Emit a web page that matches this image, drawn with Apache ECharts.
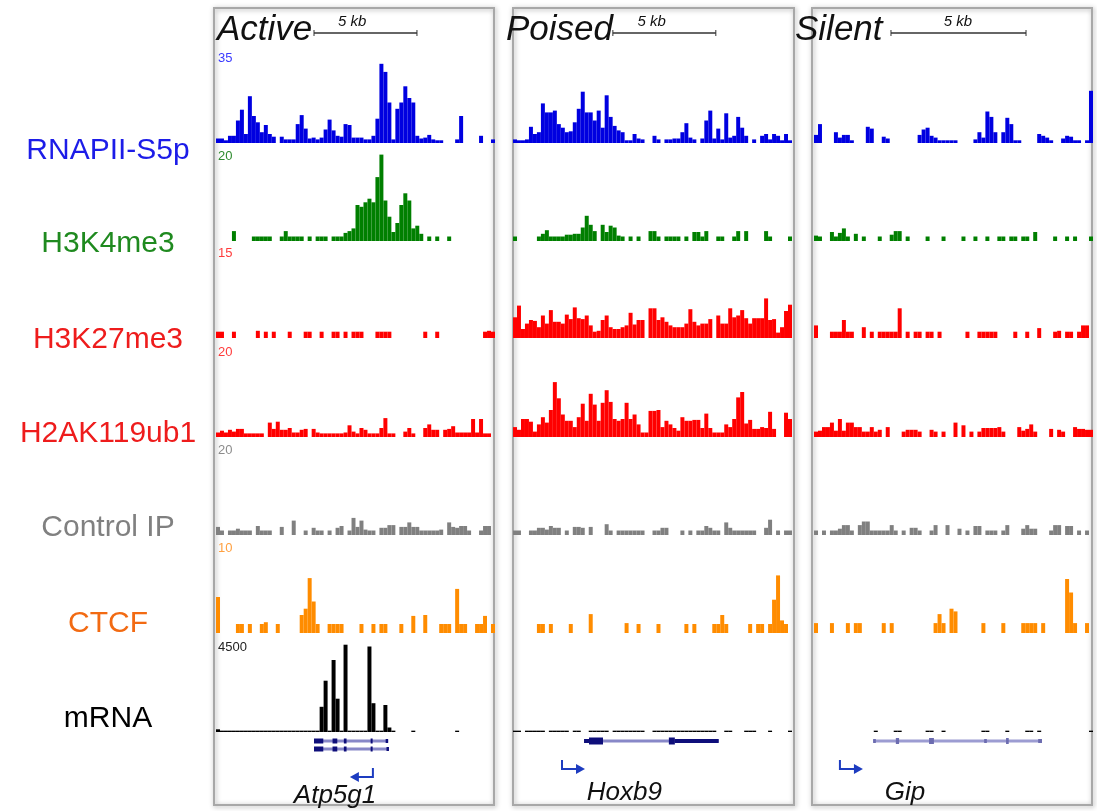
<!DOCTYPE html>
<html>
<head>
<meta charset="utf-8">
<script src="https://cdn.jsdelivr.net/npm/echarts/dist/echarts.min.js"></script>
<style>
html, body { margin: 0; padding: 0; background: #fff; }
#main { width: 1097px; height: 811px; }
</style>
</head>
<body>
<div id="main"></div>
<script>
var _ = null;

// signal per 70 bins, in % of the track's scale maximum
var rnapActive = [5,5,3,8,8,25,37,10,52,30, 23,12,20,10,7,_,7,4,4,4, 21,31,16,5,6,4,6,15,26,14, 8,7,21,20,6,6,6,4,4,8,
  27,88,79,45,4,38,45,63,50,45, 8,5,6,9,4,3,3,_,_,_, 4,30,_,_,_,_,8,_,_,4];
var rnapPoised = [4,3,3,4,18,10,12,44,34,34, 36,21,17,12,13,23,38,57,34,34, 25,36,17,53,29,19,14,12,3,3, 10,5,4,_,_,8,4,_,4,4,
  5,5,12,22,6,4,_,5,25,36, 5,16,4,33,6,8,29,17,8,_, 4,_,8,10,4,10,8,3,10,3];
var rnapSilent = [9,21,_,_,_,12,6,9,9,3, _,_,_,18,16,_,_,7,5,_, _,_,_,_,_,_,9,15,17,8, 6,3,3,3,3,3,_,_,_,_,
  4,12,6,35,29,12,_,12,28,21, 3,3,_,_,_,_,10,8,6,3, _,_,5,8,7,3,3,_,3,58];

var k4Active = [_,_,_,_,11,_,_,_,_,5, 5,5,5,5,_,_,5,11,5,5, 5,5,_,5,_,5,5,5,_,5, 5,5,9,11,14,40,38,43,47,43,
  71,96,45,27,10,20,40,53,45,14, 17,8,_,5,_,5,_,_,5,_, _,_,_,_,_,_,_,_,_,_];
var k4Poised = [5,_,_,_,_,_,5,8,12,5, 5,5,5,7,7,8,8,15,28,18, 11,_,18,10,17,15,6,5,_,5, _,5,_,_,11,11,5,_,5,5,
  5,5,_,5,_,10,10,5,11,_, _,5,5,_,_,5,11,_,11,_, _,_,_,11,5,_,_,_,_,5];
var k4Silent = [6,5,_,_,10,5,9,14,5,_, 8,_,5,_,_,_,5,_,_,7, 11,11,_,5,_,_,_,_,5,_, _,_,5,_,_,_,_,5,_,_,
  5,_,_,5,_,_,5,5,_,5, 5,_,5,5,_,10,_,_,_,_, 5,_,_,5,_,5,_,_,_,5];

var k27Active = [7,7,_,_,7,_,_,_,_,_, 8,_,7,_,7,_,_,_,7,_, _,_,7,7,_,_,7,_,_,7, 7,_,7,_,7,7,7,_,_,_,
  7,7,7,7,_,_,_,_,_,_, _,_,7,_,_,7,_,_,_,_, _,_,_,_,_,_,_,7,8,7];
var k27Poised = [23,36,10,16,20,19,12,25,16,31, 18,18,16,26,21,34,22,21,25,14, 7,8,20,25,12,10,10,12,14,28, 15,20,20,_,33,33,20,23,18,14,
  12,12,12,16,32,18,14,16,16,21, _,25,16,16,33,23,25,31,22,16, 22,22,22,44,20,21,6,12,30,37];
var k27Silent = [14,_,_,_,7,7,7,20,7,7, _,_,12,_,7,_,7,7,7,7, 7,33,_,7,_,7,7,_,7,7, _,7,_,_,_,_,_,_,7,_,
  _,7,7,7,7,7,_,_,_,_, 7,_,_,7,_,_,11,_,_,_, 7,8,_,7,7,_,7,14,14,_];

var ubActive = [5,7,5,8,6,9,9,4,4,4, 4,4,_,16,9,17,8,8,10,5, 5,8,9,_,9,5,4,4,4,4, 4,4,5,13,6,4,10,8,4,4,
  4,10,21,4,4,_,_,6,10,4, _,_,10,14,8,8,_,8,9,12, 5,5,5,5,20,5,20,4,4,_];
var ubPoised = [11,8,20,20,17,6,14,22,16,30, 61,43,25,18,18,11,22,37,18,48, 36,18,38,52,39,20,18,20,38,20, 25,14,5,5,29,29,30,11,18,14,
  10,7,22,18,18,19,19,10,26,10, 5,5,5,14,11,20,44,50,15,19, 9,9,11,10,28,9,_,_,27,20];
var ubSilent = [6,7,11,11,16,7,20,7,16,16, 11,11,6,6,11,6,8,_,11,_, _,_,6,8,8,8,6,_,_,8, 6,_,6,_,_,16,_,13,_,6,
  _,6,10,10,10,10,11,6,_,_, _,11,7,9,14,6,_,_,_,9, _,8,6,_,_,11,9,9,8,8];

var ctrlActive = [9,5,_,5,5,7,5,5,5,_, 10,5,5,5,_,_,9,_,_,16, _,_,5,_,8,5,5,_,5,_, 8,10,_,5,19,9,16,6,5,5,
  _,8,8,11,11,_,9,9,14,9, 9,5,5,5,5,5,6,_,14,9, 8,10,10,5,_,_,5,10,10,_];
var ctrlPoised = [5,5,_,_,5,5,8,8,6,10, 8,8,_,5,_,9,9,8,_,9, _,_,_,12,5,_,5,5,5,5, 5,5,5,_,_,5,5,8,8,_,
  _,_,5,_,5,_,5,5,10,8, 5,5,_,14,8,5,5,5,5,5, 5,_,_,8,17,_,5,_,5,5];
var ctrlSilent = [5,_,5,_,5,5,7,11,11,5, _,11,15,15,5,5,5,5,5,11, 5,_,5,_,8,8,5,_,_,5, 11,_,_,11,_,_,7,_,5,_,
  10,10,_,5,5,5,_,5,11,_, _,_,7,11,7,7,_,_,_,5, 11,11,_,10,10,_,5,_,5,_];

var ctcfActive = [40,_,_,_,_,10,10,_,10,_, _,10,12,_,_,10,_,_,_,_, _,20,27,61,35,10,_,_,10,10, 10,10,_,_,_,_,10,_,_,10,
  _,10,10,_,_,_,10,_,_,19, _,_,20,_,_,_,10,10,10,_, 49,10,10,_,_,10,10,19,_,10];
var ctcfPoised = [_,_,_,_,_,_,10,10,_,10, _,_,_,_,10,_,_,_,_,21, _,_,_,_,_,_,_,_,11,_, _,10,_,_,_,_,10,_,_,_,
  _,_,_,10,_,10,_,_,_,_, 10,10,20,10,_,_,_,_,_,10, _,10,10,_,10,37,64,14,10,_];
var ctcfSilent = [11,_,_,_,11,_,_,_,11,_, 11,11,_,_,_,_,_,11,_,11, _,_,_,_,_,_,_,_,_,_, 11,21,11,_,27,24,_,_,_,_,
  _,_,11,_,_,_,_,11,_,_, _,_,11,11,11,11,_,11,_,_, _,_,_,60,45,11,_,_,11,_];

var mrnaActive = [3,1.5,1.5,1.5,1.5,1.5,1.5,1.5,1.5,1.5, 1.5,1.5,1.5,1.5,1.5,1.5,1.5,1.5,1.5,1.5,
  1.5,1.5,1.5,1.5,1.5,1.5,28,57,1.5,80, 37,1.5,97,1.5,1.5,1.5,1.5,1.5,95,32,
  1.5,1.5,30,5,1.5,_,_,_,_,1.5, _,_,_,_,_,_,_,_,_,_, 1.5,_,_,_,_,_,_,_,_,_];
var mrnaPoised = [1.5,1.5,_,1.5,1.5,1.5,1.5,1.5,_,1.5, 1.5,1.5,1.5,1.5,_,1.5,1.5,_,_,1.5,
  1.5,1.5,1.5,1.5,_,1.5,1.5,1.5,1.5,1.5, 1.5,1.5,1.5,_,_,1.5,1.5,1.5,1.5,1.5,
  1.5,1.5,1.5,1.5,1.5,1.5,1.5,1.5,1.5,1.5, 1.5,_,_,1.5,1.5,_,_,_,1.5,1.5, 1.5,_,_,_,1.5,_,_,_,_,1.5];
var mrnaSilent = [_,_,_,_,_,_,_,_,_,_, _,_,_,_,_,1.5,_,_,_,_, 1.5,1.5,_,_,_,_,_,_,1.5,1.5,
  _,_,1.5,_,_,_,_,_,_,_, _,_,1.5,1.5,_,_,_,_,1.5,_, _,_,_,1.5,1.5,_,1.5,_,_,_, _,_,_,_,_,_,_,_,_,1.5];

var trackNames = ['RNAPII-S5p', 'H3K4me3', 'H3K27me3', 'H2AK119ub1', 'Control IP', 'CTCF', 'mRNA'];
var trackScale = ['35', '20', '15', '20', '20', '10', '4500'];
var panelNames = ['Active', 'Poised', 'Silent'];
var panelSpanKb = [13.55, 13.55, 10.33];

// gene models: [startKb, endKb, transcript row, part (0 intron, 1 UTR, 2 CDS)]
var atp5g1 = [[4.76,8.36,0,0],[4.76,5.21,0,2],[5.66,5.89,0,2],[6.21,6.34,0,2],[7.51,7.59,0,2],[8.24,8.36,0,1],
  [4.76,8.40,1,0],[4.76,5.21,1,2],[5.66,5.89,1,2],[6.21,6.34,1,2],[7.51,7.59,1,2],[8.28,8.40,1,1]];
var hoxb9 = [[3.45,9.99,0,0],[3.45,3.69,0,1],[3.69,4.37,0,2],[7.57,7.86,0,2],[7.86,9.99,0,1]];
var gip = [[2.19,8.44,0,0],[2.19,2.29,0,1],[3.03,3.15,0,2],[4.26,4.44,0,2],[6.30,6.40,0,1],[7.11,7.21,0,2],[8.30,8.44,0,1]];
var geneNames = ['Atp5g1', 'Hoxb9', 'Gip'];
// [tssKb, direction, transcripts, labelKb]
var geneMarks = [[7.62,-1,2,5.78],[2.38,1,1,5.41],[0.96,1,1,3.37]];
// [startKb, lengthKb, labelKb]
var scaleBars = [[4.76,5,6.61],[4.85,5,6.74],[2.85,5,5.33]];

var signal = [
  [rnapActive, k4Active, k27Active, ubActive, ctrlActive, ctcfActive, mrnaActive],
  [rnapPoised, k4Poised, k27Poised, ubPoised, ctrlPoised, ctcfPoised, mrnaPoised],
  [rnapSilent, k4Silent, k27Silent, ubSilent, ctrlSilent, ctcfSilent, mrnaSilent]
];
var genes = [atp5g1, hoxb9, gip];

var barColors = ['#0000e0', '#007f00', '#ff0000', '#ff0000', '#808080', '#ff8c00', '#000000'];
var labelColors = ['#1c1ce8', '#1f8a1f', '#ee1c1c', '#ee1c1c', '#808080', '#f26a12', '#000000'];
var scaleColors = ['#3a3aff', '#2e8b2e', '#ff3b3b', '#ff3b3b', '#8c8c8c', '#ffa040', '#222222'];
var geneColors = [['#0e0e7a', '#8888c8'], ['#0e0e7a', '#8888c8'], ['#6c6cb0', '#9c9cd2']];
var cdsHeight = [5, 7, 6];

var panelLeft = [216, 513, 814];
var panelW = 279;
var baseY = [143, 241, 338, 437, 535, 633, 732];
var trackH = 90;
var labelY = [151, 244, 340, 434, 528, 624, 719];
var FONT = '"Liberation Sans", Arial, sans-serif';

var bins = [];
for (var i = 0; i < 70; i++) bins.push(i);

var grids = [], xAxes = [], yAxes = [], series = [];

function addGrid(g, x, y) {
  var k = grids.length;
  grids.push(g);
  x.gridIndex = k; x.show = false;
  y.gridIndex = k; y.show = false;
  xAxes.push(x);
  yAxes.push(y);
  return k;
}

panelLeft.forEach(function (left, p) {
  baseY.forEach(function (b, t) {
    var k = addGrid({left: left, top: b - trackH, width: panelW, height: trackH},
      {type: 'category', data: bins},
      {type: 'value', min: 0, max: 100});
    series.push({
      type: 'bar', xAxisIndex: k, yAxisIndex: k, data: signal[p][t],
      barWidth: '100%', silent: true, itemStyle: {color: barColors[t]}
    });
  });
});

function geneRender(p) {
  return function (params, api) {
    var x0 = api.coord([api.value(0), 0])[0];
    var x1 = api.coord([api.value(1), 0])[0];
    var y = params.coordSys.y + 6 + api.value(2) * 8;
    var part = api.value(3);
    var h = part === 2 ? cdsHeight[p] : part === 1 ? 4 : 3;
    return {
      type: 'rect',
      shape: {x: x0, y: y - h / 2, width: Math.max(x1 - x0, 2), height: h},
      style: {fill: part ? geneColors[p][0] : geneColors[p][1]}
    };
  };
}

function markRender(p) {
  return function (params, api) {
    var x = api.coord([api.value(0), 0])[0];
    var dir = api.value(1);
    var rows = api.value(2);
    var xl = api.coord([api.value(3), 0])[0];
    var y = params.coordSys.y + 34 + (rows - 1) * 8;
    var xe = x + dir * 23;
    return {
      type: 'group',
      children: [
        {type: 'polyline', shape: {points: [[x, y - 9], [x, y], [xe - dir * 6, y]]},
          style: {stroke: '#1d3cc0', lineWidth: 2, fill: 'none'}},
        {type: 'polygon', shape: {points: [[xe, y], [xe - dir * 9, y - 5], [xe - dir * 9, y + 5]]},
          style: {fill: '#1d3cc0'}},
        {type: 'text', style: {text: geneNames[p], x: xl, y: params.coordSys.y + 58 + (rows - 1) * 3,
          font: 'italic 26px ' + FONT, fill: '#111', align: 'center', verticalAlign: 'middle'}}
      ]
    };
  };
}

function scaleRender(params, api) {
  var x0 = api.coord([api.value(0), 0])[0];
  var x1 = api.coord([api.value(0) + api.value(1), 0])[0];
  var xl = api.coord([api.value(2), 0])[0];
  var y = params.coordSys.y + 8;
  return {
    type: 'group',
    children: [
      {type: 'line', shape: {x1: x0, y1: y, x2: x1, y2: y}, style: {stroke: '#333', lineWidth: 1.3}},
      {type: 'line', shape: {x1: x0, y1: y - 3, x2: x0, y2: y + 3}, style: {stroke: '#333', lineWidth: 1}},
      {type: 'line', shape: {x1: x1, y1: y - 3, x2: x1, y2: y + 3}, style: {stroke: '#333', lineWidth: 1}},
      {type: 'text', style: {text: api.value(1) + ' kb', x: xl, y: y - 11,
        font: 'italic 15px ' + FONT, fill: '#111', align: 'center', verticalAlign: 'middle'}}
    ]
  };
}

panelLeft.forEach(function (left, p) {
  var k = addGrid({left: left, top: 735, width: panelW, height: 70},
    {type: 'value', min: 0, max: panelSpanKb[p]},
    {type: 'value', min: 0, max: 1});
  series.push({type: 'custom', xAxisIndex: k, yAxisIndex: k, silent: true, data: genes[p], renderItem: geneRender(p)});
  series.push({type: 'custom', xAxisIndex: k, yAxisIndex: k, silent: true, data: [geneMarks[p]], renderItem: markRender(p)});
  var s = addGrid({left: left, top: 25, width: panelW, height: 16},
    {type: 'value', min: 0, max: panelSpanKb[p]},
    {type: 'value', min: 0, max: 1});
  series.push({type: 'custom', xAxisIndex: s, yAxisIndex: s, silent: true, data: [scaleBars[p]], renderItem: scaleRender, z: 5});
});

var graphic = [];
var boxX = [214, 513, 812];
var boxW = [280, 281, 280];
boxX.forEach(function (x, p) {
  graphic.push({type: 'rect', z: 0, shape: {x: x, y: 8, width: boxW[p], height: 797},
    style: {fill: 'none', stroke: '#a8a8a8', lineWidth: 2, shadowBlur: 5, shadowColor: 'rgba(0,0,0,0.35)', shadowOffsetX: 1, shadowOffsetY: 1}});
});
var titleX = [217, 506, 795];
panelNames.forEach(function (n, p) {
  graphic.push({type: 'text', z: 1, style: {text: n, x: titleX[p], y: 30, font: 'italic 35px ' + FONT, fill: '#111', verticalAlign: 'middle'}});
});
trackNames.forEach(function (n, t) {
  graphic.push({type: 'text', z: 1, style: {text: n, x: 108, y: labelY[t], font: '30px ' + FONT, fill: labelColors[t], align: 'center', verticalAlign: 'middle'}});
  graphic.push({type: 'text', z: 1, style: {text: trackScale[t], x: 218, y: baseY[t] - trackH + 5, font: '13px ' + FONT, fill: scaleColors[t], verticalAlign: 'middle'}});
});

var chart = echarts.init(document.getElementById('main'));
chart.setOption({
  animation: false,
  backgroundColor: '#ffffff',
  grid: grids,
  xAxis: xAxes,
  yAxis: yAxes,
  series: series,
  graphic: graphic
});
</script>
</body>
</html>
